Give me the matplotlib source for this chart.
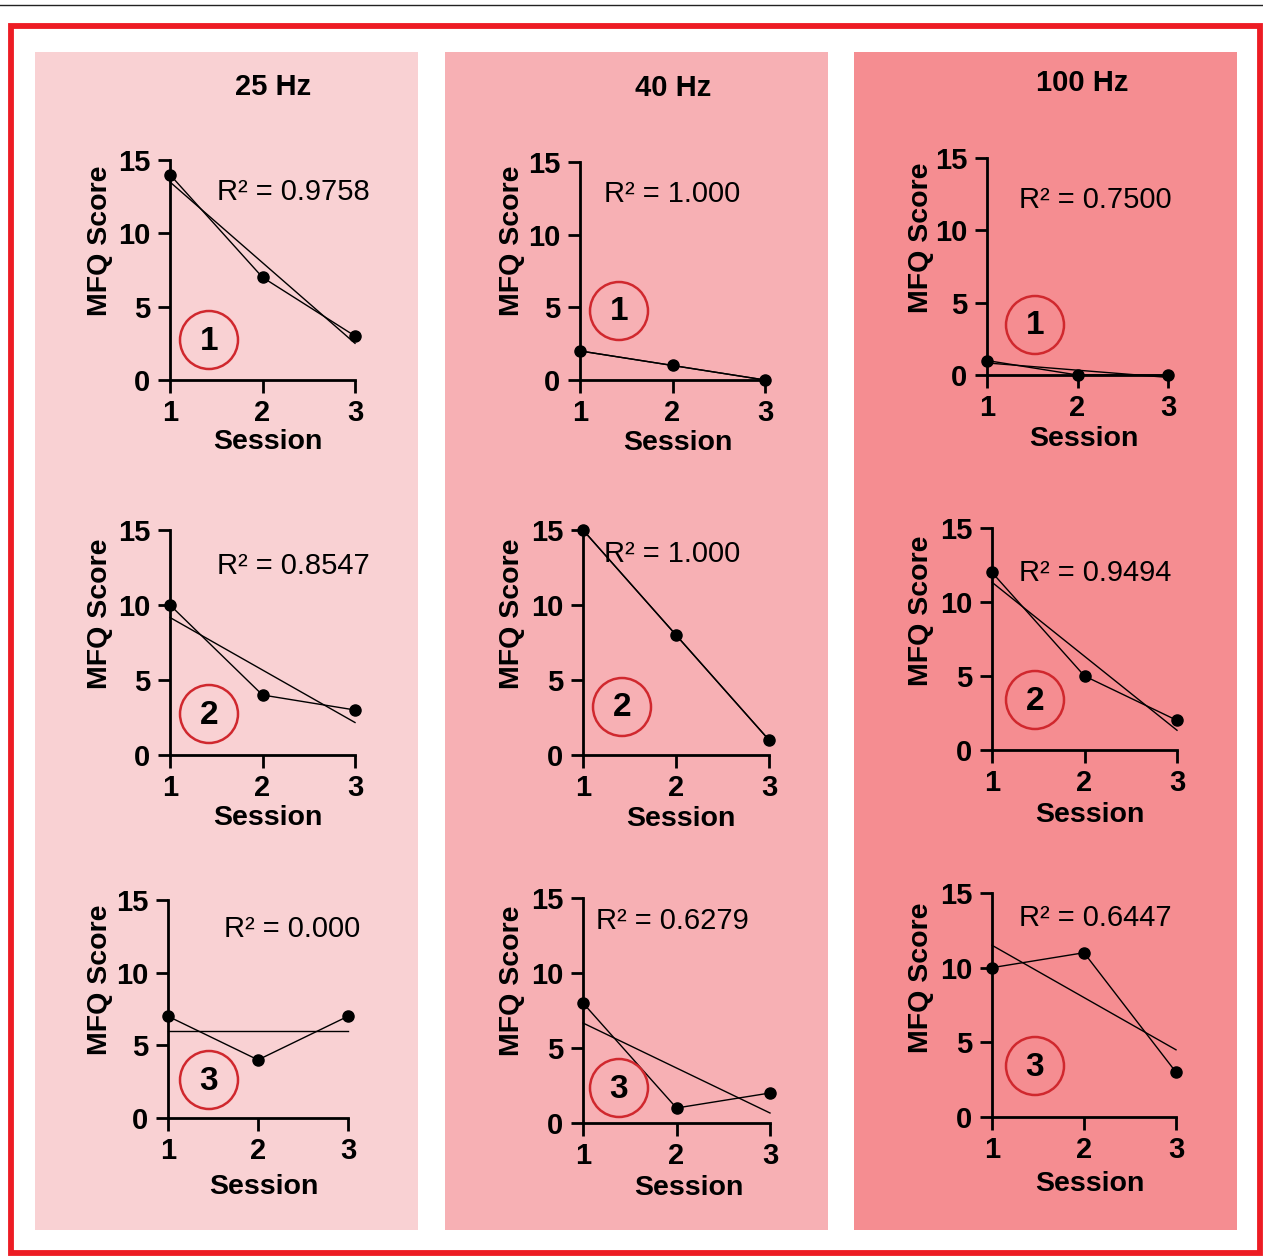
import numpy as np
import matplotlib
matplotlib.use('Agg')
import matplotlib.pyplot as plt
from matplotlib.patches import Rectangle, Ellipse
from matplotlib.lines import Line2D

plt.rcParams['font.family'] = ['Liberation Sans', 'DejaVu Sans']

W, H = 1263, 1256

# data
frequencies = ['25 Hz', '40 Hz', '100 Hz']
sessions = [1, 2, 3]
scores = {
    '25 Hz': [[14, 7, 3], [10, 4, 3], [7, 4, 7]],
    '40 Hz': [[2, 1, 0], [15, 8, 1], [8, 1, 2]],
    '100 Hz': [[1, 0, 0], [12, 5, 2], [10, 11, 3]],
}
r2_labels = {
    '25 Hz': ['0.9758', '0.8547', '0.000'],
    '40 Hz': ['1.000', '1.000', '0.6279'],
    '100 Hz': ['0.7500', '0.9494', '0.6447'],
}
subjects = ['1', '2', '3']
y_ticks = [0, 5, 10, 15]

# layout (pixels)
panel_bg = ['#F9D1D3', '#F7B0B4', '#F58D91']
panel_x = [(35, 418), (445, 828), (854, 1237)]
title_pos = [(273, 87), (673, 88), (1082, 83)]
# left, right, top(15), bottom(0)
axes_px = [
    [(170, 355, 160, 380), (170, 355, 530, 755), (168, 348, 900, 1118)],
    [(580, 765, 162, 380), (583, 769, 530, 755), (583, 770, 898, 1123)],
    [(987, 1168, 158, 375), (992, 1177, 528, 750), (992, 1176, 893, 1117)],
]
r2_pos = [
    [(217, 192), (217, 566), (224, 929)],
    [(604, 194), (604, 554), (596, 921)],
    [(1019, 200), (1019, 573), (1019, 918)],
]
circle_pos = [
    [(209, 340), (209, 714), (209, 1080)],
    [(619, 311), (622, 707), (619, 1088)],
    [(1035, 325), (1035, 700), (1035, 1066)],
]
ylab_pos = [
    [(100, 241), (100, 614), (100, 980)],
    [(512, 241), (512, 614), (512, 981)],
    [(921, 238), (921, 611), (921, 978)],
]
xlab_pos = [
    [(268, 442), (268, 818), (264, 1187)],
    [(678, 443), (681, 819), (689, 1188)],
    [(1084, 439), (1090, 815), (1090, 1184)],
]


def fx(x):
    return x / W


def fy(y):
    return 1 - y / H


fig = plt.figure(figsize=(W / 100, H / 100), dpi=100)
fig.patch.set_facecolor('white')

# thin top rule and red frame
fig.add_artist(Line2D([0, 1], [fy(5), fy(5)], color='#222222', lw=1.0,
                      transform=fig.transFigure))
fig.add_artist(Rectangle((fx(10.5), fy(1253)), fx(1260 - 10.5), (1253 - 25.5) / H,
                         fill=False, edgecolor='#ED1C24', lw=4.2,
                         transform=fig.transFigure))

for c, freq in enumerate(frequencies):
    x0, x1 = panel_x[c]
    fig.add_artist(Rectangle((fx(x0), fy(1230)), fx(x1 - x0), (1230 - 52) / H,
                             facecolor=panel_bg[c], edgecolor='none',
                             transform=fig.transFigure, zorder=0))
    tx, ty = title_pos[c]
    fig.text(fx(tx), fy(ty), freq, ha='center', va='center',
             fontsize=21, fontweight='bold')

    for r in range(3):
        l, rt, t, b = axes_px[c][r]
        ax = fig.add_axes([fx(l), fy(b), (rt - l) / W, (b - t) / H])
        ax.patch.set_visible(False)
        vals = scores[freq][r]
        ax.plot(sessions, vals, color='black', lw=1.0, marker='o', ms=8,
                clip_on=False, zorder=3)
        slope, icpt = np.polyfit(sessions, vals, 1)
        xs = np.array([sessions[0], sessions[-1]])
        ax.plot(xs, slope * xs + icpt, color='black', lw=1.0, clip_on=False)
        ax.set_xlim(1, 3)
        ax.set_ylim(0, 15)
        ax.set_xticks(sessions)
        ax.set_yticks(y_ticks)
        for s in ['top', 'right']:
            ax.spines[s].set_visible(False)
        for s in ['left', 'bottom']:
            ax.spines[s].set_linewidth(2)
        ax.tick_params(direction='out', length=9, width=2, labelsize=21, pad=5)
        for lab in ax.get_xticklabels() + ax.get_yticklabels():
            lab.set_fontweight('bold')

        lx, ly = ylab_pos[c][r]
        fig.text(fx(lx), fy(ly), 'MFQ Score', rotation=90, ha='center',
                 va='center', fontsize=20.5, fontweight='bold')
        sx, sy = xlab_pos[c][r]
        fig.text(fx(sx), fy(sy), 'Session', ha='center', va='center',
                 fontsize=20.5, fontweight='bold')
        rx, ry = r2_pos[c][r]
        fig.text(fx(rx), fy(ry), 'R² = ' + r2_labels[freq][r], ha='left',
                 va='center', fontsize=21)
        cx, cy = circle_pos[c][r]
        fig.add_artist(Ellipse((fx(cx), fy(cy)), 58 / W, 58 / H, fill=False,
                               edgecolor='#D0282E', lw=1.8,
                               transform=fig.transFigure))
        fig.text(fx(cx), fy(cy + 1), subjects[r], ha='center', va='center',
                 fontsize=24, fontweight='bold')

plt.savefig('out.png', dpi=100)
